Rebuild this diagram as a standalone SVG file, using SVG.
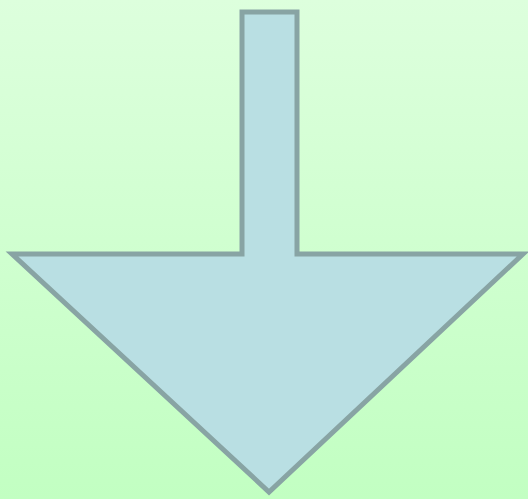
<svg xmlns="http://www.w3.org/2000/svg" width="528" height="499" viewBox="0 0 528 499">
<defs>
<linearGradient id="bg" x1="0" y1="0" x2="0" y2="1">
<stop offset="0" stop-color="#DDFFDD"/>
<stop offset="1" stop-color="#C2FFC2"/>
</linearGradient>
<style>.arrow{fill:#B9DFE3;stroke:#88A4A4;stroke-width:5;stroke-linejoin:miter}</style>
</defs>
<rect x="0" y="0" width="528" height="499" fill="url(#bg)"/>
<g id="arrow">
<polygon class="arrow" points="242,12 297,12 297,254 523,254 269,492 12,254 242,254"/>
</g>
</svg>
